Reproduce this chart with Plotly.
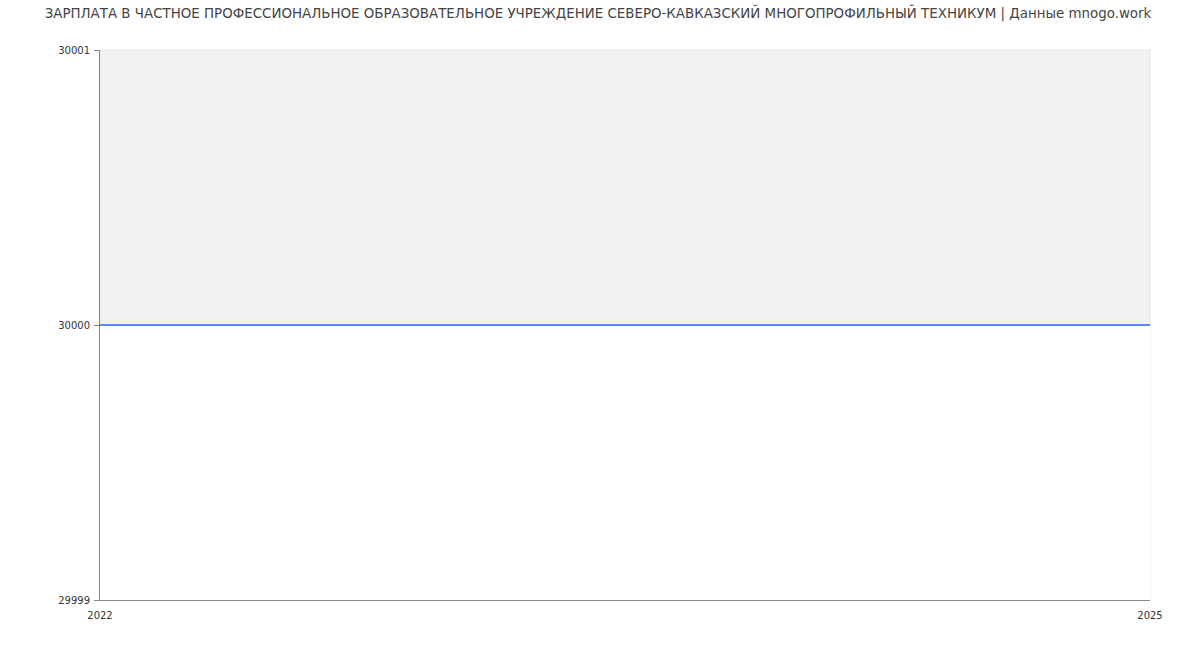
import plotly.graph_objects as go

title = "ЗАРПЛАТА В ЧАСТНОЕ ПРОФЕССИОНАЛЬНОЕ ОБРАЗОВАТЕЛЬНОЕ УЧРЕЖДЕНИЕ СЕВЕРО-КАВКАЗСКИЙ МНОГОПРОФИЛЬНЫЙ ТЕХНИКУМ | Данные mnogo.work"
years = [2022, 2023, 2024, 2025]
salary = [30000, 30000, 30000, 30000]
x_ticks = [2022, 2025]
y_ticks = [29999, 30000, 30001]

W, H = 1200, 650

fig = go.Figure()
fig.add_trace(go.Scatter(
    x=years, y=salary, mode="lines",
    line=dict(color="#5b8def", width=2),
    fill="tozeroy", fillcolor="#ffffff",
    hoverinfo="x+y", showlegend=False,
))

fig.add_shape(type="rect", xref="paper", yref="paper", x0=0, x1=1, y0=0, y1=1,
              line=dict(color="#e3e3e3", width=1), layer="below")

fig.update_layout(
    width=W, height=H,
    margin=dict(l=100, r=50, t=50, b=50),
    paper_bgcolor="#ffffff",
    plot_bgcolor="#f2f2f2",
    font=dict(family="DejaVu Sans", size=10, color="#333333"),
    title=dict(text=title, x=598 / W, xanchor="center", y=1 - 13 / H, yanchor="middle",
               font=dict(family="DejaVu Sans", size=13.4, color="#444444")),
    xaxis=dict(range=[2022, 2025], tickvals=x_ticks, ticktext=[str(v) for v in x_ticks],
               showgrid=False, zeroline=False, showline=True, linecolor="#888888",
               linewidth=1, ticks="", ticklabelstandoff=6),
    yaxis=dict(range=[29999, 30001], tickvals=y_ticks, ticktext=[str(v) for v in y_ticks],
               showgrid=False, zeroline=False, showline=True, linecolor="#888888",
               linewidth=1, ticks="outside", ticklen=5, tickcolor="#888888",
               ticklabelstandoff=2),
)

fig.write_html(
    "out.html",
    config={"displayModeBar": False},
    post_script="document.body.style.margin='0';document.body.style.overflow='hidden';",
)
